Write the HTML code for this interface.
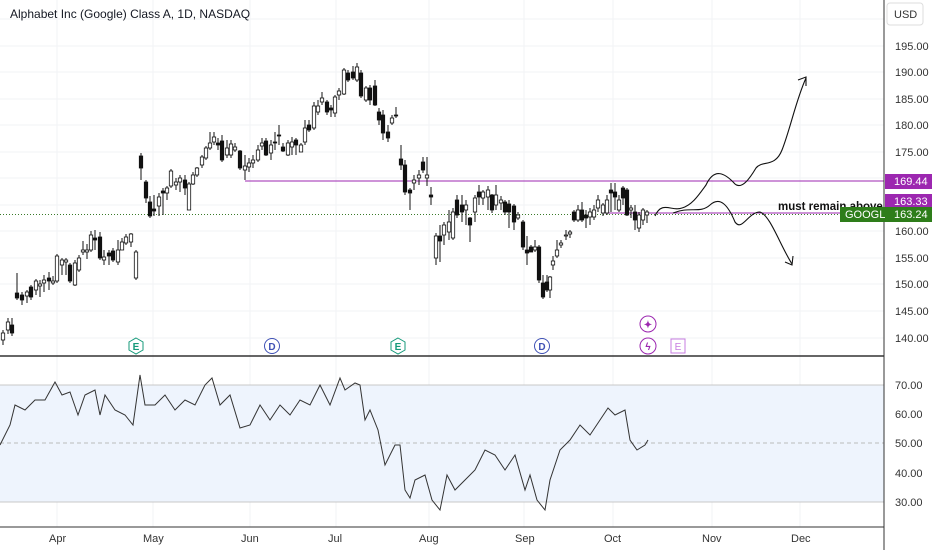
<!DOCTYPE html>
<html><head><meta charset="utf-8"><style>
html,body{margin:0;padding:0;background:#fff;}
svg{display:block;font-family:"Liberation Sans",sans-serif;}
</style></head><body>
<svg width="932" height="550" viewBox="0 0 932 550" xmlns="http://www.w3.org/2000/svg">
<rect width="932" height="550" fill="#fff"/>
<g stroke="#f2f3f6" stroke-width="1">
<line x1="57" y1="0" x2="57" y2="527"/><line x1="153" y1="0" x2="153" y2="527"/><line x1="250" y1="0" x2="250" y2="527"/><line x1="336" y1="0" x2="336" y2="527"/><line x1="429" y1="0" x2="429" y2="527"/><line x1="524" y1="0" x2="524" y2="527"/><line x1="613" y1="0" x2="613" y2="527"/><line x1="712" y1="0" x2="712" y2="527"/><line x1="800" y1="0" x2="800" y2="527"/>
<line x1="0" y1="19" x2="884" y2="19"/><line x1="0" y1="46" x2="884" y2="46"/><line x1="0" y1="72" x2="884" y2="72"/><line x1="0" y1="99" x2="884" y2="99"/><line x1="0" y1="125" x2="884" y2="125"/><line x1="0" y1="152" x2="884" y2="152"/><line x1="0" y1="178" x2="884" y2="178"/><line x1="0" y1="205" x2="884" y2="205"/><line x1="0" y1="231" x2="884" y2="231"/><line x1="0" y1="258" x2="884" y2="258"/><line x1="0" y1="284" x2="884" y2="284"/><line x1="0" y1="311" x2="884" y2="311"/><line x1="0" y1="338" x2="884" y2="338"/>
</g>
<rect x="0" y="385" width="884" height="117" fill="#eef4fd"/>
<line x1="0" y1="385" x2="884" y2="385" stroke="#c8c8c8"/>
<line x1="0" y1="502" x2="884" y2="502" stroke="#c8c8c8"/>
<line x1="0" y1="443" x2="884" y2="443" stroke="#bbb" stroke-dasharray="4,3"/>
<text x="10" y="18" font-size="12" fill="#131722">Alphabet Inc (Google) Class A, 1D, NASDAQ</text>
<line x1="0" y1="214.5" x2="884" y2="214.5" stroke="#3a7a2a" stroke-dasharray="1,2"/>
<line x1="245" y1="181" x2="884" y2="181" stroke="#9c27b0" stroke-width="1"/>
<line x1="605" y1="213" x2="884" y2="213" stroke="#9c27b0" stroke-width="1"/>
<path fill="none" stroke="#111" stroke-width="1" d="M3 330V345M8 318V334M12 318V336M17 273V300M22 292V305M27 290V303M31 285V300M36 279V295M40 280V297M44 275V292M49 272V290M53 276V285M57 254V283M62 258V275M66 258V275M70 263V283M75 260V286M79 255V272M83 241V255M87 244V259M91 231V252M95 230V250M100 232V260M104 250V265M109 250V265M113 248V262M118 240V265M122 238V250M126 234V245M131 233V247M136 250V280M141 153V180M146 180V203M150 196V218M154 195V216M159 193V216M163 188V215M167 186V200M171 169V188M176 178V190M180 175V192M185 175V195M189 182V210M193 172V185M197 167V177M202 155V168M206 146V160M210 132V150M214 132V145M218 138V150M222 135V162M227 140V158M231 140V158M235 143V152M240 150V170M245 155V180M249 158V172M253 155V168M258 145V162M262 138V150M266 138V156M271 140V160M275 132V150M279 125V145M283 143V152M288 140V156M292 137V155M296 138V155M301 143V152M305 120V145M309 120V132M314 102V130M318 100V115M322 92V105M327 100V115M331 105V117M335 95V117M339 88V100M344 68V95M348 70V82M353 66V80M357 63V82M361 70V98M366 86V102M370 85V105M375 80V106M379 108V125M383 110V140M388 125V142M392 115V125M396 107V118M401 145V170M405 160V195M410 188V210M414 175V190M419 170V185M423 157V173M427 157V186M431 187V205M436 233V265M440 225V262M444 222V245M449 210V240M453 208V240M457 195V218M462 195V222M466 200V225M470 217V242M475 195V222M479 185V205M483 190V205M488 186V210M492 194V213M496 185V210M501 196V210M505 200V215M509 200V228M514 204V230M518 212V220M523 220V250M527 236V265M531 245V252M535 240V252M539 245V283M543 275V299M547 275V292M550 276V298M553 256V270M557 240V258M561 240V248M566 230V240M570 230V238M574 210V222M578 205V222M582 202V222M586 210V228M590 208V225M594 205V220M598 195V212M603 203V216M607 195V215M611 183V212M615 183V210M619 195V212M623 186V205M627 188V216M631 205V218M635 205V230M639 212V232M643 208V225M647 210V223"/>
<g stroke="#111" stroke-width="0.8">
<g fill="#fff">
<rect x="1.3" y="333" width="3.4" height="7"/><rect x="6.3" y="322" width="3.4" height="8"/><rect x="25.3" y="292" width="3.4" height="4"/><rect x="34.3" y="281" width="3.4" height="9"/><rect x="38.3" y="284" width="3.4" height="2"/><rect x="42.3" y="280" width="3.4" height="3"/><rect x="51.3" y="281" width="3.4" height="2"/><rect x="55.3" y="256" width="3.4" height="25"/><rect x="60.3" y="260" width="3.4" height="5"/><rect x="64.3" y="260" width="3.4" height="2"/><rect x="73.3" y="263" width="3.4" height="22"/><rect x="77.3" y="258" width="3.4" height="12"/><rect x="81.3" y="250" width="3.4" height="2"/><rect x="85.3" y="250" width="3.4" height="2"/><rect x="89.3" y="235" width="3.4" height="15"/><rect x="102.3" y="257" width="3.4" height="3"/><rect x="116.3" y="250" width="3.4" height="12"/><rect x="120.3" y="242" width="3.4" height="8"/><rect x="124.3" y="237" width="3.4" height="6"/><rect x="129.3" y="234" width="3.4" height="8"/><rect x="134.3" y="252" width="3.4" height="26"/>
<rect x="157.3" y="197" width="3.4" height="9"/><rect x="165.3" y="188" width="3.4" height="5"/><rect x="169.3" y="171" width="3.4" height="15"/><rect x="174.3" y="182" width="3.4" height="3"/><rect x="178.3" y="178" width="3.4" height="4"/><rect x="187.3" y="184" width="3.4" height="26"/><rect x="191.3" y="175" width="3.4" height="9"/><rect x="195.3" y="168" width="3.4" height="7"/><rect x="200.3" y="157" width="3.4" height="8"/><rect x="204.3" y="148" width="3.4" height="10"/><rect x="208.3" y="143" width="3.4" height="5"/><rect x="212.3" y="137" width="3.4" height="5"/><rect x="225.3" y="148" width="3.4" height="7"/><rect x="229.3" y="144" width="3.4" height="11"/><rect x="233.3" y="147" width="3.4" height="3"/><rect x="243.3" y="166" width="3.4" height="4"/><rect x="247.3" y="163" width="3.4" height="4"/><rect x="251.3" y="160" width="3.4" height="3"/><rect x="256.3" y="150" width="3.4" height="10"/><rect x="260.3" y="143" width="3.4" height="3"/><rect x="269.3" y="145" width="3.4" height="8"/><rect x="286.3" y="143" width="3.4" height="12"/><rect x="290.3" y="142" width="3.4" height="5"/><rect x="299.3" y="145" width="3.4" height="7"/><rect x="303.3" y="128" width="3.4" height="14"/><rect x="312.3" y="106" width="3.4" height="22"/><rect x="316.3" y="106" width="3.4" height="6"/><rect x="320.3" y="98" width="3.4" height="4"/><rect x="333.3" y="97" width="3.4" height="16"/><rect x="337.3" y="91" width="3.4" height="4"/><rect x="342.3" y="70" width="3.4" height="24"/><rect x="355.3" y="67" width="3.4" height="13"/><rect x="364.3" y="88" width="3.4" height="12"/><rect x="390.3" y="118" width="3.4" height="5"/>
<rect x="412.3" y="180" width="3.4" height="3"/><rect x="417.3" y="175" width="3.4" height="3"/><rect x="425.3" y="175" width="3.4" height="3"/><rect x="434.3" y="236" width="3.4" height="22"/><rect x="442.3" y="225" width="3.4" height="10"/><rect x="447.3" y="222" width="3.4" height="10"/><rect x="451.3" y="212" width="3.4" height="26"/><rect x="464.3" y="205" width="3.4" height="5"/><rect x="473.3" y="198" width="3.4" height="14"/><rect x="481.3" y="192" width="3.4" height="6"/><rect x="486.3" y="190" width="3.4" height="7"/><rect x="494.3" y="195" width="3.4" height="10"/><rect x="499.3" y="200" width="3.4" height="3"/><rect x="516.3" y="215" width="3.4" height="3"/><rect x="533.3" y="247" width="3.4" height="3"/><rect x="548.3" y="277" width="3.4" height="13"/><rect x="551.3" y="261" width="3.4" height="4"/><rect x="555.3" y="250" width="3.4" height="6"/><rect x="559.3" y="243" width="3.4" height="2"/><rect x="564.3" y="235" width="3.4" height="1"/><rect x="568.3" y="232" width="3.4" height="2"/><rect x="576.3" y="210" width="3.4" height="10"/><rect x="588.3" y="212" width="3.4" height="5"/><rect x="592.3" y="210" width="3.4" height="7"/><rect x="596.3" y="200" width="3.4" height="8"/><rect x="601.3" y="205" width="3.4" height="8"/><rect x="605.3" y="200" width="3.4" height="13"/><rect x="617.3" y="200" width="3.4" height="10"/><rect x="629.3" y="208" width="3.4" height="2"/><rect x="637.3" y="215" width="3.4" height="13"/><rect x="641.3" y="210" width="3.4" height="10"/><rect x="645.3" y="212" width="3.4" height="3"/>
</g>
<g fill="#111">
<rect x="10.3" y="325" width="3.4" height="8"/><rect x="15.3" y="293" width="3.4" height="5"/><rect x="20.3" y="295" width="3.4" height="5"/><rect x="29.3" y="287" width="3.4" height="10"/><rect x="47.3" y="278" width="3.4" height="3"/><rect x="68.3" y="265" width="3.4" height="16"/><rect x="93.3" y="238" width="3.4" height="2"/><rect x="98.3" y="237" width="3.4" height="21"/><rect x="107.3" y="253" width="3.4" height="3"/><rect x="111.3" y="251" width="3.4" height="9"/>
<rect x="139.3" y="156" width="3.4" height="12"/><rect x="144.3" y="182" width="3.4" height="16"/><rect x="148.3" y="202" width="3.4" height="14"/><rect x="152.3" y="209" width="3.4" height="2"/><rect x="161.3" y="191" width="3.4" height="2"/><rect x="183.3" y="180" width="3.4" height="8"/><rect x="216.3" y="143" width="3.4" height="2"/><rect x="220.3" y="141" width="3.4" height="19"/><rect x="238.3" y="151" width="3.4" height="17"/><rect x="264.3" y="141" width="3.4" height="14"/><rect x="273.3" y="142" width="3.4" height="1"/><rect x="277.3" y="135" width="3.4" height="1"/><rect x="281.3" y="147" width="3.4" height="4"/><rect x="294.3" y="140" width="3.4" height="5"/><rect x="307.3" y="125" width="3.4" height="5"/><rect x="325.3" y="102" width="3.4" height="10"/><rect x="329.3" y="108" width="3.4" height="2"/><rect x="346.3" y="73" width="3.4" height="7"/><rect x="351.3" y="72" width="3.4" height="6"/><rect x="359.3" y="73" width="3.4" height="23"/><rect x="368.3" y="88" width="3.4" height="12"/><rect x="373.3" y="86" width="3.4" height="19"/><rect x="377.3" y="112" width="3.4" height="8"/><rect x="381.3" y="115" width="3.4" height="18"/><rect x="386.3" y="132" width="3.4" height="6"/><rect x="394.3" y="115" width="3.4" height="1"/>
<rect x="399.3" y="159" width="3.4" height="6"/><rect x="403.3" y="165" width="3.4" height="27"/><rect x="408.3" y="190" width="3.4" height="3"/><rect x="421.3" y="162" width="3.4" height="8"/><rect x="429.3" y="195" width="3.4" height="2"/><rect x="438.3" y="236" width="3.4" height="5"/><rect x="455.3" y="200" width="3.4" height="15"/><rect x="460.3" y="205" width="3.4" height="7"/><rect x="468.3" y="218" width="3.4" height="7"/><rect x="477.3" y="192" width="3.4" height="5"/><rect x="490.3" y="195" width="3.4" height="15"/><rect x="503.3" y="202" width="3.4" height="10"/><rect x="507.3" y="204" width="3.4" height="8"/><rect x="512.3" y="206" width="3.4" height="16"/><rect x="521.3" y="222" width="3.4" height="25"/><rect x="525.3" y="250" width="3.4" height="3"/><rect x="529.3" y="247" width="3.4" height="5"/><rect x="537.3" y="247" width="3.4" height="33"/><rect x="541.3" y="283" width="3.4" height="14"/><rect x="545.3" y="282" width="3.4" height="8"/><rect x="572.3" y="212" width="3.4" height="8"/><rect x="580.3" y="210" width="3.4" height="10"/><rect x="584.3" y="215" width="3.4" height="3"/><rect x="609.3" y="190" width="3.4" height="3"/><rect x="613.3" y="192" width="3.4" height="5"/><rect x="621.3" y="188" width="3.4" height="10"/><rect x="625.3" y="190" width="3.4" height="25"/><rect x="633.3" y="212" width="3.4" height="8"/>
</g>
</g>
<polyline fill="none" stroke="#333" stroke-width="1" points="0,445 10,425 15,405 25,410 35,400 45,400 55,382 62,395 70,392 78,415 85,395 95,390 100,415 105,395 115,410 125,415 133,425 140,375 145,405 155,405 165,395 175,410 185,400 195,405 205,385 212,378 220,405 230,395 240,428 250,425 260,405 270,420 280,405 290,415 300,400 310,405 320,385 330,405 340,378 345,390 355,383 360,385 365,420 370,410 378,430 385,465 395,445 400,445 405,490 410,498 415,480 425,475 432,500 440,510 447,475 455,490 465,480 475,470 485,450 495,455 505,470 515,455 525,490 530,475 537,500 545,510 550,480 560,450 570,440 580,425 590,435 600,420 608,408 615,415 625,410 630,440 637,450 645,445 648,440"/>
<g fill="none" stroke="#111" stroke-width="1.1">
<path d="M655,216 C662,200 672,212 682,208 C692,205 698,196 706,185 C714,168 724,172 735,184 C742,190 750,178 756,168 C762,160 775,168 782,150 C790,130 796,100 806,78"/>
<path d="M798,80 L806,77 L806,86"/>
<path d="M673,213 C690,206 700,214 710,205 C720,196 728,205 735,222 C742,232 748,212 760,212 C770,215 780,245 792,264"/>
<path d="M785,262 L792,265 L793,256"/>
</g>
<text x="778" y="210" font-size="11.5" font-weight="bold" fill="#111">must remain above</text>
<line x1="0" y1="356" x2="884" y2="356" stroke="#333" stroke-width="1.5"/>
<line x1="884" y1="0" x2="884" y2="550" stroke="#333" stroke-width="1"/>
<line x1="0" y1="527" x2="884" y2="527" stroke="#333" stroke-width="1"/>
<g font-size="11" fill="#333">
<text x="895" y="50">195.00</text><text x="895" y="76">190.00</text><text x="895" y="103">185.00</text><text x="895" y="129">180.00</text><text x="895" y="156">175.00</text><text x="895" y="235">160.00</text><text x="895" y="262">155.00</text><text x="895" y="288">150.00</text><text x="895" y="315">145.00</text><text x="895" y="342">140.00</text>
<text x="895" y="389">70.00</text><text x="895" y="418">60.00</text><text x="895" y="447">50.00</text><text x="895" y="477">40.00</text><text x="895" y="506">30.00</text>
<text x="49" y="542">Apr</text><text x="143" y="542">May</text><text x="241" y="542">Jun</text><text x="328" y="542">Jul</text><text x="419" y="542">Aug</text><text x="515" y="542">Sep</text><text x="604" y="542">Oct</text><text x="702" y="542">Nov</text><text x="791" y="542">Dec</text>
</g>
<rect x="887" y="3" width="36" height="22" rx="3" fill="#fff" stroke="#ddd"/>
<text x="894" y="18" font-size="11" fill="#333">USD</text>
<rect x="885" y="174" width="47" height="15" fill="#9c27b0"/><text x="894" y="185" font-size="11" fill="#fff">169.44</text>
<rect x="885" y="194" width="47" height="14" fill="#9c27b0"/><text x="894" y="205" font-size="11" fill="#fff">163.33</text>
<rect x="840" y="207" width="92" height="15" fill="#2e7d1a"/><text x="845" y="218" font-size="11" fill="#fff">GOOGL</text><text x="894" y="218" font-size="11" fill="#fff">163.24</text>
<g font-size="10" font-weight="bold" text-anchor="middle">
<path d="M136,338 l7,4 v8 l-7,4 l-7,-4 v-8z" fill="#fff" stroke="#159a7a"/><text x="136" y="350" fill="#159a7a">E</text>
<circle cx="272" cy="346" r="7.5" fill="#fff" stroke="#3f51b5"/><text x="272" y="350" fill="#3f51b5">D</text>
<path d="M398,338 l7,4 v8 l-7,4 l-7,-4 v-8z" fill="#fff" stroke="#159a7a"/><text x="398" y="350" fill="#159a7a">E</text>
<circle cx="542" cy="346" r="7.5" fill="#fff" stroke="#3f51b5"/><text x="542" y="350" fill="#3f51b5">D</text>
<circle cx="648" cy="324" r="8" fill="#fff" stroke="#9c27b0"/><text x="648" y="328" fill="#9c27b0">✦</text>
<circle cx="648" cy="346" r="8" fill="#fff" stroke="#9c27b0"/><text x="648" y="350" fill="#9c27b0">ϟ</text>
<rect x="671" y="339" width="14" height="14" fill="#fff" stroke="#c77ce0"/><text x="678" y="350" fill="#c77ce0" font-weight="normal">E</text>
</g>
</svg>
</body></html>
